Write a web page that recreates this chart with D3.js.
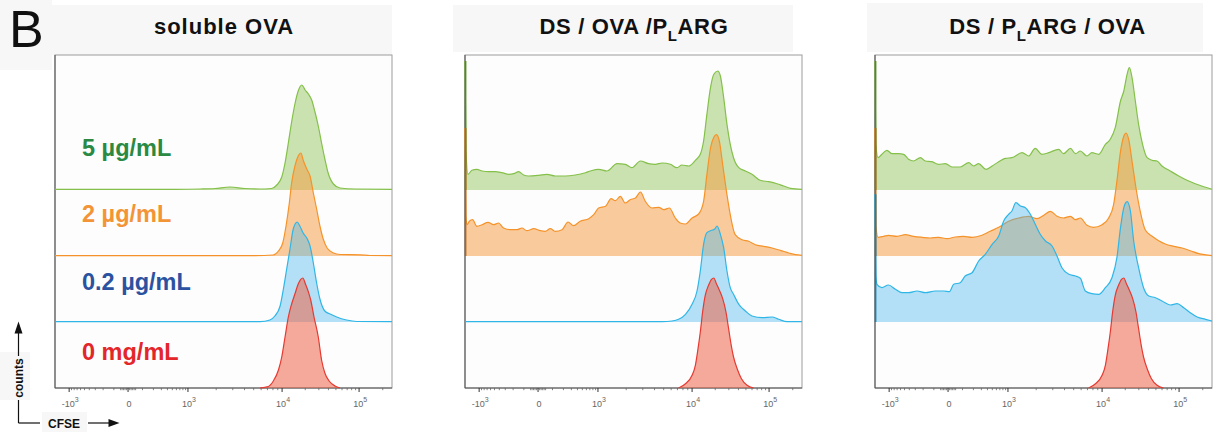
<!DOCTYPE html>
<html><head><meta charset="utf-8">
<script src="https://cdn.jsdelivr.net/npm/d3@7"></script>
<style>
body{margin:0;background:#fff;}
svg{display:block;font-family:"Liberation Sans",Arial,Helvetica,sans-serif;}
</style>
</head><body>
<svg id="chart" width="1216" height="432"></svg>
<script>
// ---------------- DATA ----------------
// Layer order: 0 = bottom (0 mg/mL) ... 3 = top (5 µg/mL)
const layerLabels = ["0 mg/mL", "0.2 µg/mL", "2 µg/mL", "5 µg/mL"];
const titleSegments = [
  [["soluble OVA", false]],
  [["DS / OVA /P", false], ["L", true], ["ARG", false]],
  [["DS / P", false], ["L", true], ["ARG / OVA", false]]
];
// axis (CFSE, biexponential display): tick values and their labels
const majorTickValues = [-1000, 0, 1000, 10000, 100000];
const majorTickLabels = [["-10", "3"], ["0", ""], ["10", "3"], ["10", "4"], ["10", "5"]];
const minorTickValues = [-900,-800,-700,-600,-500,-400,-300,-200,-100,-50,-40,-30,-20,-10,
  10,20,30,40,50,100,200,300,400,500,600,700,800,900,
  2000,3000,4000,5000,6000,7000,8000,9000,
  20000,30000,40000,50000,60000,70000,80000,90000,200000];
// display calibration: fluorescence value -> display channel (0..1024)
const calibValues = [-1000, 0, 1000, 10000, 100000, 262144];
const calibChannels = [43, 222, 404, 690, 924, 1024];

// histograms: [display channel, normalized count]
const solOVA_5 = [[0,0.7],[365,0.7],[441,1],[486,1.5],[532,3],[577,1.5],[623,1],[658,1.5],[674,5],[689,13],[699,27],[709,47],[719,68],[729,86],[739,99],[750,105],[760,100],[770,96],[780,90],[790,78],[800,64],[810,47],[820,31],[830,17],[846,6],[866,2],[912,1],[1024,0.7]];
const solOVA_2 = [[0,0.3],[608,0.3],[663,1],[679,5],[692,13],[702,30],[712,53],[719,73],[729,90],[739,100],[747,103],[755,95],[765,87],[775,80],[785,63],[795,47],[805,30],[815,17],[827,8],[846,3],[866,1.5],[927,1.2],[957,0.5],[1024,0.3]];
const solOVA_02 = [[0,0.3],[623,0.3],[653,2],[668,6],[684,16],[694,33],[704,53],[714,73],[724,93],[736,100],[744,96],[754,89],[765,84],[775,76],[785,59],[795,39],[805,23],[820,11],[836,8],[856,5],[886,2],[917,0.5],[1024,0.3]];
const solOVA_0 = [[623,0],[648,1.5],[663,6.7],[679,18],[689,31],[699,51],[709,71],[719,84],[729,94],[739,104],[753,110],[761,104],[770,96],[777,88],[787,71],[800,51],[810,28],[820,15],[833,7],[851,2],[866,0]];

const dsOvaPl_5 = [[0,129],[3,40],[9,15.7],[21,19.7],[36,20.7],[52,19],[72,18.3],[92,18.3],[112,17.3],[133,15.7],[148,16.3],[163,18.3],[178,15],[193,14],[224,14.7],[249,15.7],[274,14],[305,14],[335,15],[366,17.3],[381,19],[406,20.7],[431,19],[462,26.3],[487,25.7],[507,22.3],[533,29],[558,26.3],[578,25.7],[599,27],[624,25.7],[644,22.3],[659,25],[680,24],[700,29.7],[715,35.7],[725,49],[735,75.7],[746,102.3],[756,115.7],[768,119],[776,114],[786,92.3],[796,65.7],[806,45.7],[816,32.3],[832,22.3],[852,19],[872,15.7],[897,9.7],[923,8.3],[948,6.3],[968,4],[989,1.7],[1024,0.7]];
const dsOvaPl_2 = [[0,128],[3,40],[6,31.3],[13,34.7],[23,36.3],[36,29.7],[52,31.3],[70,33.7],[87,31.3],[102,33],[117,28],[138,26.3],[158,26.3],[173,28],[188,25.3],[209,27.3],[229,25.3],[244,24.7],[259,27.3],[274,24.7],[295,26.3],[313,34],[330,30.3],[350,34.7],[376,37.3],[391,41.3],[406,48],[427,49.7],[444,57.3],[457,55.3],[472,59.7],[487,53],[502,56.3],[518,58],[533,64],[548,54.7],[568,48],[589,48.7],[604,46.3],[621,48],[639,38],[654,33],[670,32],[690,38],[710,42],[725,54.7],[735,81.3],[746,108],[756,118.7],[764,121.3],[773,114.7],[783,91.3],[796,61.3],[806,41.3],[821,21.3],[842,16.3],[862,14.7],[882,11.3],[908,9.7],[933,8],[958,5.7],[984,3],[1004,1.3],[1024,0.7]];
const dsOvaPl_02 = [[0,0.3],[599,0.3],[629,1],[649,2.7],[670,7.7],[690,17.7],[705,31],[715,51],[725,77.7],[735,89.3],[749,91.7],[758,92.7],[766,96],[776,87.7],[786,74.3],[796,51],[806,34.3],[816,27.7],[832,17.7],[852,11],[872,6],[903,4.3],[933,5],[953,2.7],[979,0.3],[1024,0.3]];
const dsCtrl_0 = [[649,0],[670,4.3],[690,12.7],[700,22.7],[708,39.3],[715,56],[722,76],[730,92.7],[740,102.7],[749,108.7],[756,110],[764,104.3],[773,97.7],[783,89.3],[793,76],[801,59.3],[809,42.7],[816,31],[827,19.3],[840,9.3],[857,2.7],[877,0]];

const dsPlOva_5 = [[0,129],[3,45],[9,32.3],[21,35.7],[36,39.7],[52,36.3],[72,36.3],[87,35.7],[102,30.7],[117,29],[138,32.3],[153,29],[173,28.3],[193,25.7],[214,26.3],[234,23],[259,23],[285,27.3],[300,24],[315,26.3],[337,20.7],[356,24],[376,28.3],[396,31.7],[416,32.3],[447,37.3],[467,34],[487,41.7],[507,35.7],[528,37.3],[558,40.7],[573,36.3],[594,41.7],[609,36.3],[624,39],[644,34],[659,37.3],[680,35.7],[700,45.7],[715,50.7],[730,62.3],[746,89],[756,99],[766,115.7],[773,122.3],[781,112.3],[791,89],[801,65.7],[813,45.7],[827,32.3],[842,29.7],[857,29],[872,24],[897,19],[923,14],[948,9.7],[973,6.3],[999,3.3],[1024,0.7]];
const dsPlOva_2 = [[0,128],[3,30],[9,18.7],[26,19.7],[41,20.7],[67,19.7],[92,21.3],[117,19.7],[143,18.7],[168,18],[193,18.7],[219,17.3],[244,19],[269,19.7],[295,18.7],[325,20.7],[350,24.7],[376,28.7],[406,34.7],[437,38],[467,39.7],[492,37.3],[513,40.7],[533,44.7],[553,39.7],[573,38],[594,39.7],[609,36.3],[624,38],[644,30.7],[664,28.7],[690,31.3],[710,38],[725,51.3],[735,74.7],[746,104.7],[756,119.7],[763,123],[771,116.3],[781,94.7],[793,68],[806,44.7],[821,26.3],[842,19.7],[862,15.3],[882,12],[908,9.7],[933,8],[958,5.3],[984,2.3],[1024,0.3]];
const dsPlOva_02 = [[0,127.7],[3,45],[6,37.7],[21,34.3],[41,37],[62,32.7],[82,29.3],[102,29.3],[128,31],[153,29.3],[183,31],[209,31],[226,30.3],[239,37.7],[259,39.3],[274,46],[295,49.3],[315,61],[335,67.7],[356,77.7],[376,86],[391,101],[406,107.7],[416,111],[428,119.3],[442,116],[457,114.3],[472,107.7],[487,97.7],[502,87.7],[518,81],[538,76],[553,66],[568,54.3],[589,47.7],[609,46],[624,43.7],[639,31],[659,28.3],[680,27.7],[700,34.3],[720,44.3],[735,64.3],[746,94.3],[756,114.3],[766,120.3],[776,111],[786,81],[801,54.3],[816,34.3],[832,26],[852,24.3],[872,21],[897,17],[918,18.3],[938,14.3],[958,9.3],[979,5],[1004,2.7],[1024,1]];

const panelSeries = [
  [solOVA_0, solOVA_02, solOVA_2, solOVA_5],
  [dsCtrl_0, dsOvaPl_02, dsOvaPl_2, dsOvaPl_5],
  [dsCtrl_0, dsPlOva_02, dsPlOva_2, dsPlOva_5]
];

// ---------------- STYLE / LAYOUT ----------------
const strokeColors = ["#e53a32", "#2fb6e6", "#f5932a", "#84c04a"];
const spikeColors  = ["#a33", "#1f7fa6", "#b0651c", "#4f8a23"];
const fillColors   = ["#ee6548", "#4cb8ec", "#f59a3c", "#8cc152"];
const fillOpacity  = [0.55, 0.42, 0.5, 0.45];
const labelColors  = ["#e3262a", "#2b52a1", "#f39437", "#2a8a44"];
const labelBaselines = [360, 289.5, 221.5, 155.5];
const panelLeft = [55, 465, 875];
const frameW = 337, frameTop = 55, frameBottom = 388;
const titleCenters = [224, 634, 1047.5];
const titleSpacing = [1, 0.65, 0.65];

const svg = d3.select("#chart");

// light grey header boxes
const boxes = [[0,0,52,70],[52,5,340,50],[453,5,340,47],[867,3,336,49],[0,352,30,48],[42,412,45,20]];
svg.selectAll("rect.hdr").data(boxes).join("rect").attr("class","hdr")
  .attr("x",d=>d[0]).attr("y",d=>d[1]).attr("width",d=>d[2]).attr("height",d=>d[3])
  .attr("fill","#f7f7f7");

svg.append("text").attr("x", 9).attr("y", 46.5).attr("font-size", 52).attr("fill", "#111").text("B");

// channel transform (biexponential-like display)
const asinhC = 150;
const calibScale = d3.scaleLinear().domain(calibValues.map(v => Math.asinh(v / asinhC))).range(calibChannels);
const toChannel = v => calibScale(Math.asinh(v / asinhC));

const layerBase = d3.scaleLinear().domain([0, 3]).range([frameBottom, 190]);
const hScale = d3.scaleLinear().domain([0, 130]).range([0, 130]);

panelSeries.forEach((series, p) => {
  const x = d3.scaleLinear().domain([0, 1024]).range([panelLeft[p], panelLeft[p] + frameW]);
  const g = svg.append("g");

  // frame
  g.append("rect").attr("x", x(0)).attr("y", frameTop).attr("width", frameW).attr("height", frameBottom - frameTop)
    .attr("fill", "#fdfdfd").attr("stroke", "#9c9c9c").attr("stroke-width", 1);
  // left and bottom axis lines
  g.append("line").attr("x1", x(0)).attr("x2", x(0)).attr("y1", frameTop).attr("y2", frameBottom)
    .attr("stroke", "#5a5a5a").attr("stroke-width", 1.1);
  g.append("line").attr("x1", x(0)).attr("x2", x(1024)).attr("y1", frameBottom).attr("y2", frameBottom)
    .attr("stroke", "#555").attr("stroke-width", 1.1);

  // histograms, top layer first
  for (let k = 3; k >= 0; k--) {
    const base = layerBase(k);
    const area = d3.area().x(d => x(d[0])).y0(base).y1(d => base - hScale(d[1])).curve(d3.curveMonotoneX);
    const line = d3.line().x(d => x(d[0])).y(d => base - hScale(d[1])).curve(d3.curveMonotoneX);
    g.append("path").datum(series[k]).attr("d", area)
      .attr("fill", fillColors[k]).attr("fill-opacity", fillOpacity[k]);
    g.append("path").datum(series[k]).attr("d", line)
      .attr("fill", "none").attr("stroke", strokeColors[k]).attr("stroke-width", 1.2).attr("stroke-linejoin", "round");
    // pile-up of events at the lowest channel drawn as a vertical spike
    const first = series[k][0];
    if (first[0] === 0 && first[1] > 50) {
      g.append("line").attr("x1", x(0) + 0.6).attr("x2", x(0) + 0.6)
        .attr("y1", base).attr("y2", base - hScale(first[1]))
        .attr("stroke", spikeColors[k]).attr("stroke-width", 1.6);
    }
  }

  // ticks
  g.selectAll("line.minor").data(minorTickValues).join("line").attr("class", "minor")
    .attr("x1", v => x(toChannel(v))).attr("x2", v => x(toChannel(v)))
    .attr("y1", frameBottom).attr("y2", frameBottom + 2.2).attr("stroke", "#666").attr("stroke-width", 0.8);
  g.selectAll("line.major").data(majorTickValues).join("line").attr("class", "major")
    .attr("x1", v => x(toChannel(v))).attr("x2", v => x(toChannel(v)))
    .attr("y1", frameBottom).attr("y2", frameBottom + 4).attr("stroke", "#333").attr("stroke-width", 1);
  const lbl = g.selectAll("text.tick").data(majorTickValues).join("text").attr("class", "tick")
    .attr("x", v => x(toChannel(v)) + 1).attr("y", 407).attr("text-anchor", "middle")
    .attr("font-size", 9).attr("fill", "#666");
  lbl.append("tspan").text((v, i) => majorTickLabels[i][0]);
  lbl.append("tspan").attr("dy", -5).attr("font-size", 7).text((v, i) => majorTickLabels[i][1]);

  // title
  const t = svg.append("text").attr("x", titleCenters[p]).attr("y", 33.5).attr("text-anchor", "middle")
    .attr("font-size", 22).attr("font-weight", "bold").attr("fill", "#111")
    .attr("letter-spacing", titleSpacing[p]);
  let shifted = false;
  titleSegments[p].forEach(([s, sub]) => {
    const ts = t.append("tspan").text(s);
    if (sub) { ts.attr("font-size", 15).attr("dy", 7); shifted = true; }
    else if (shifted) { ts.attr("dy", -7); shifted = false; }
  });
});

// layer labels (panel 1)
svg.selectAll("text.layer").data(layerLabels).join("text").attr("class", "layer")
  .attr("x", 82).attr("y", (d, i) => labelBaselines[i])
  .attr("font-size", 23.5).attr("font-weight", "bold")
  .attr("fill", (d, i) => labelColors[i]).text(d => d);

// axis legend (counts / CFSE)
const lg = svg.append("g").attr("stroke", "#111").attr("stroke-width", 1.2).attr("fill", "none");
lg.append("line").attr("x1", 18.5).attr("x2", 18.5).attr("y1", 333).attr("y2", 356);
lg.append("line").attr("x1", 18.5).attr("x2", 18.5).attr("y1", 400).attr("y2", 423);
lg.append("line").attr("x1", 18.5).attr("x2", 40).attr("y1", 423).attr("y2", 423);
lg.append("line").attr("x1", 88).attr("x2", 111).attr("y1", 423).attr("y2", 423);
svg.append("path").attr("d", "M18.5,321.5 L14.5,333.5 L22.5,333.5 Z").attr("fill", "#111");
svg.append("path").attr("d", "M119.5,423 L108.5,419 L108.5,427 Z").attr("fill", "#111");
svg.append("text").attr("transform", "translate(22.5,378) rotate(-90)").attr("text-anchor", "middle")
  .attr("font-size", 12).attr("font-weight", "bold").attr("fill", "#111").text("counts");
svg.append("text").attr("x", 48).attr("y", 427.5).attr("font-size", 12).attr("font-weight", "bold")
  .attr("fill", "#111").text("CFSE");
</script>
</body></html>
